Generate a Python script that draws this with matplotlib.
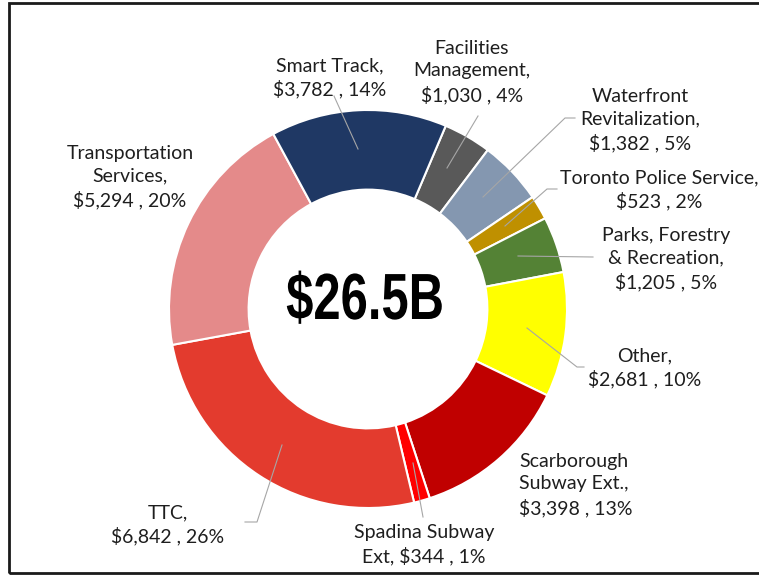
import matplotlib.pyplot as plt
from matplotlib.patches import Rectangle
from matplotlib.patheffects import AbstractPathEffect
from matplotlib.transforms import Affine2D

# 2016-2025 capital budget, $ millions (clockwise from the top)
categories = [
    "Facilities\nManagement",
    "Waterfront\nRevitalization",
    "Toronto Police Service",
    "Parks, Forestry\n& Recreation",
    "Other",
    "Scarborough\nSubway Ext.",
    "Spadina Subway\nExt",
    "TTC",
    "Transportation\nServices",
    "Smart Track",
]
values = [1030, 1382, 523, 1205, 2681, 3398, 344, 6842, 5294, 3782]
percents = [4, 5, 2, 5, 10, 13, 1, 26, 20, 14]
total_label = "$26.5B"

colors = [
    "#595959", "#8497B0", "#BF9000", "#548235", "#FFFF00",
    "#C00000", "#FF0000", "#E33B2E", "#E48A8A", "#1F3864",
]

W, H = 759, 575
# label centres in pixels from the top-left corner
label_xy = [
    (472, 72), (640, 120), (659, 190), (666, 259), (645, 368),
    (519, 485), (424, 545), (168, 525), (130, 177), (330, 78),
]
label_align = ["center"] * 5 + ["left", "center", "center", "center", "center"]
label_sep = [",\n"] * 6 + [", "] + [",\n"] * 3
# leader lines (pixels from top-left), None where Excel drew none
leaders = [
    [(478, 116), (447, 168)],
    [(575, 118), (565, 118), (483, 197)],
    [(557, 189), (547, 189), (505, 226)],
    [(593, 257), (518, 256)],
    [(527, 328), (577, 367), (584, 367)],
    None,
    [(413, 463), (423, 517)],
    [(282, 445), (257, 522), (245, 522)],
    None,
    [(334, 96), (358, 149)],
]


class Squeeze(AbstractPathEffect):
    """Narrow the glyphs horizontally around a fixed x (display px)."""

    def __init__(self, sx, x0):
        super().__init__()
        self.sx = sx
        self.x0 = x0

    def draw_path(self, renderer, gc, tpath, affine, rgbFace=None):
        squeeze = Affine2D().translate(-self.x0, 0).scale(self.sx, 1).translate(self.x0, 0)
        renderer.draw_path(gc, tpath, affine + squeeze, rgbFace)


fig = plt.figure(figsize=(W / 100, H / 100), dpi=100)
ax = fig.add_axes([0, 0, 1, 1])

cx, cy, R = 368, H - 309, 199
ax.pie(
    values,
    colors=colors,
    startangle=67,
    counterclock=False,
    center=(cx, cy),
    radius=R,
    frame=True,
    wedgeprops=dict(width=R * 0.4, edgecolor="white", linewidth=1.5),
)
ax.set_xlim(0, W)
ax.set_ylim(0, H)
ax.set_aspect("auto")
ax.axis("off")

for pts in leaders:
    if pts is None:
        continue
    xs = [p[0] for p in pts]
    ys = [H - p[1] for p in pts]
    ax.plot(xs, ys, color="#A6A6A6", lw=0.8, zorder=3)

for name, val, pct, sep, (x, y), ha in zip(categories, values, percents, label_sep,
                                           label_xy, label_align):
    if sep == ", ":
        name = name.replace("\n", " ").replace("Subway ", "Subway\n")
    txt = f"{name}{sep}${val:,} , {pct}%"
    ax.text(x, H - y, txt, ha=ha, va="center", fontsize=14,
            family=["Lato", "DejaVu Sans"], color="#1E1E1E",
            linespacing=1.38, multialignment=ha, zorder=4)

ax.text(cx - 3, H - 302, total_label, ha="center", va="center",
        fontsize=47, fontweight="bold", family=["Liberation Sans"], zorder=4,
        path_effects=[Squeeze(0.75, (cx - 3) * fig.dpi / 100)])

# outer frame of the pasted image
ax.add_patch(Rectangle((8.5, H - 572.5), W, 569.5, fill=False,
                       edgecolor="#1a1a1a", lw=2, zorder=5))

fig.savefig("out.png", dpi=100)
